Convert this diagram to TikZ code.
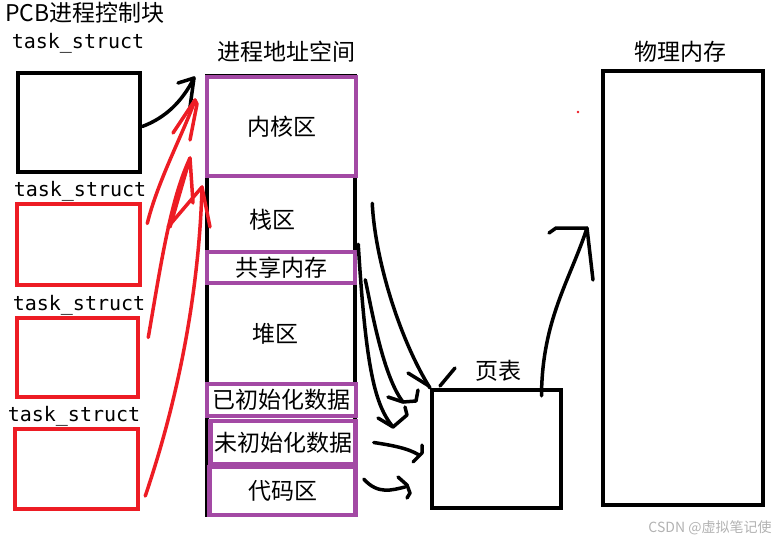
\documentclass[tikz,border=0pt]{standalone}
\usepackage{fontspec}
\setmainfont{Noto Sans CJK SC}
\newfontfamily\monof{DejaVu Sans Mono}
\definecolor{pp}{RGB}{163,73,164}
\definecolor{rd}{RGB}{237,28,36}
\tikzset{
 blkbox/.style={draw=black, line width=4.5pt, inner sep=0pt},
 redbox/.style={draw=rd, line width=4.5pt, inner sep=0pt},
 purbox/.style={draw=pp, line width=4.5pt, inner sep=0pt, fill=white},
 cjk/.style={font=\fontsize{23}{26}\selectfont, inner sep=0pt},
 tlabel/.style={font=\monof\fontsize{20}{22}\selectfont, inner sep=0pt},
 pen/.style={line width=3.5pt, line cap=round, line join=round},
 redpen/.style={pen, draw=rd},
}
\begin{document}
\begin{tikzpicture}[x=1pt,y=-1pt]
\useasboundingbox (0,0) rectangle (782,542);
% titles
\node[cjk, anchor=west] (pcb) at (5,13) {PCB进程控制块};
\node[cjk] (vas) at (286,52) {进程地址空间};
\node[cjk] (pmt) at (680,52) {物理内存};
\node[cjk] (ptt) at (498,371) {页表};
% task_struct boxes
\node[tlabel] (l1) at (78,43) {task\_struct};
\node[blkbox, minimum width=122pt, minimum height=99pt] (t1) at (79,122.5) {};
\node[tlabel] (l2) at (80,191) {task\_struct};
\node[redbox, minimum width=123pt, minimum height=81pt] (t2) at (78.5,244.5) {};
\node[tlabel] (l3) at (79,305) {task\_struct};
\node[redbox, minimum width=121pt, minimum height=79pt] (t3) at (77.5,357.5) {};
\node[tlabel] (l4) at (74,416) {task\_struct};
\node[redbox, minimum width=123pt, minimum height=80pt] (t4) at (76.5,469) {};
% address space
\node[blkbox, minimum width=148pt, minimum height=439pt] (as) at (281,295.5) {};
\node[purbox, cjk, minimum width=149pt, minimum height=99pt] (kern) at (281.5,126.5) {内核区};
\node[cjk] (stack) at (272,220) {栈区};
\node[purbox, cjk, minimum width=148pt, minimum height=31pt] (shm) at (281,267.5) {共享内存};
\node[cjk] (heap) at (275,334) {堆区};
\node[purbox, cjk, minimum width=149pt, minimum height=32pt] (init) at (281.5,400) {已初始化数据};
\node[purbox, cjk, minimum width=145pt, minimum height=43pt] (uninit) at (283,442.5) {未初始化数据};
\node[purbox, cjk, minimum width=146pt, minimum height=48pt] (code) at (282.5,491) {代码区};
% page table and physical memory
\node[blkbox, minimum width=129pt, minimum height=118pt] (pt) at (496.5,449) {};
\node[blkbox, minimum width=160pt, minimum height=434pt] (pm) at (683,288) {};
\fill[rd] (578,112) circle (1.3pt);
\node[font=\fontsize{14}{16}\selectfont, text=black!30, inner sep=0pt] (wm) at (710,528) {CSDN @虚拟笔记使};
% black arrow from first task_struct
\coordinate (a0) at (194,78);
\draw[pen] ([yshift=-4pt]t1.east) .. controls (165,118) and (182,102) .. (a0);
\draw[pen] (178,83) -- (a0) -- (190,107);
% red arrows
\coordinate (r1) at (195,100);
\draw[redpen] ([shift={(5pt,21pt)}]t2.east) .. controls (158,180) and (184,132) .. (r1);
\draw[redpen] (173,133) -- (r1) -- (197,104) -- (190,140);
\coordinate (r2) at (190,158);
\draw[redpen] ([shift={(8pt,20pt)}]t3.east) .. controls (160,270) and (170,200) .. (r2);
\draw[redpen] (170,227) -- (r2) -- (193,203);
\coordinate (r3) at (202,187);
\draw[redpen] ([shift={(5pt,-27pt)}]t4.east) .. controls (188,370) and (200,260) .. (r3);
\draw[redpen] (168,227) -- (r3) -- (210,227);
% arrows to page table
\coordinate (b1) at (430,388);
\draw[pen] ([shift={(14pt,-25pt)}]kern.south east) .. controls (375,260) and (400,340) .. (b1);
\draw[pen] (408,373) -- (429,386);
\draw[pen] (440,386) -- (455,368);
\coordinate (b2) at (403,402);
\draw[pen] ([shift={(8pt,-30pt)}]shm.north east) .. controls (370,300) and (382,375) .. (b2);
\draw[pen] (388,397) -- (b2) -- (416,401) -- (418,390);
\coordinate (b3) at (393,427);
\draw[pen] ([shift={(1pt,41pt)}]shm.south east) .. controls (366,370) and (375,405) .. (b3);
\draw[pen] (378,418) -- (b3) -- (407,415) -- (405,407);
\coordinate (b4) at (413,462);
\draw[pen] ([shift={(16pt,0pt)}]uninit.east) .. controls (390,445) and (408,448) .. (419,455);
\draw[pen] (422,445) -- (422,453) -- (b4);
\coordinate (b5) at (410,493);
\draw[pen] ([shift={(6pt,12pt)}]code.east) .. controls (378,495) and (392,490) .. (405,487);
\draw[pen] (398,477) -- (407,485) -- (b5) -- (407,498);
% arrow from page table to physical memory
\coordinate (c1) at (587,228);
\draw[pen] ([shift={(45pt,-8pt)}]pt.north) .. controls (542,320) and (570,280) .. (c1);
\draw[pen] (549,233) -- (556,228) -- (c1) -- (593,280);
\end{tikzpicture}
\end{document}
